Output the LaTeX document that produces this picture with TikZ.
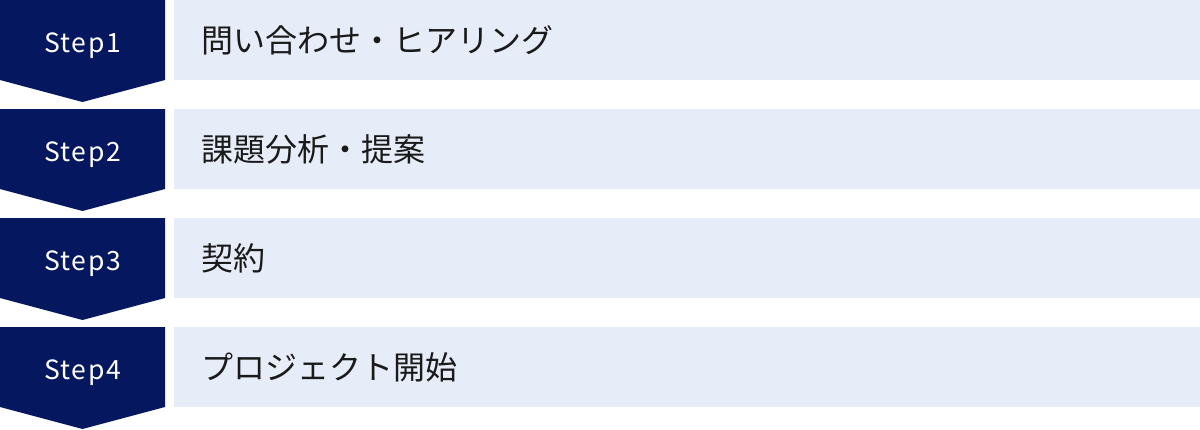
\documentclass[tikz,border=0pt]{standalone}
\usepackage{fontspec}
\newfontfamily\jpfont{Noto Sans CJK JP}
\newfontfamily\stepfont[LetterSpace=6]{Noto Sans CJK JP}
\definecolor{navy}{HTML}{05175F}
\definecolor{pale}{HTML}{E6ECF8}
\definecolor{ink}{HTML}{1A1A1A}
\tikzset{
  stepshape/.style={fill=navy},
  bar/.style={fill=pale},
  steplabel/.style={text=white, font=\stepfont\fontsize{26.5}{27}\selectfont, anchor=base, inner sep=0pt},
  itemlabel/.style={text=ink, font=\jpfont\fontsize{32}{32}\selectfont, anchor=west, inner sep=0pt},
}
\begin{document}
\begin{tikzpicture}[x=1pt,y=-1pt]
\useasboundingbox (0,0) rectangle (1200,429);
\foreach \i/\lab/\txt in {0/1/問い合わせ・ヒアリング,1/2/課題分析・提案,2/3/契約,3/4/プロジェクト開始}{
  \pgfmathsetmacro{\t}{109*\i}
  \fill[stepshape] (0,\t) -- (165,\t) -- (165,\t+80) -- (82.5,\t+102) -- (0,\t+80) -- cycle;
  \fill[bar] (174,\t) rectangle (1200,\t+80);
  \node[steplabel] (s\lab) at (82.5,\t+52.3) {Step\lab};
  \node[itemlabel] (t\lab) at (201,\t+40) {\txt};
}
\end{tikzpicture}
\end{document}
